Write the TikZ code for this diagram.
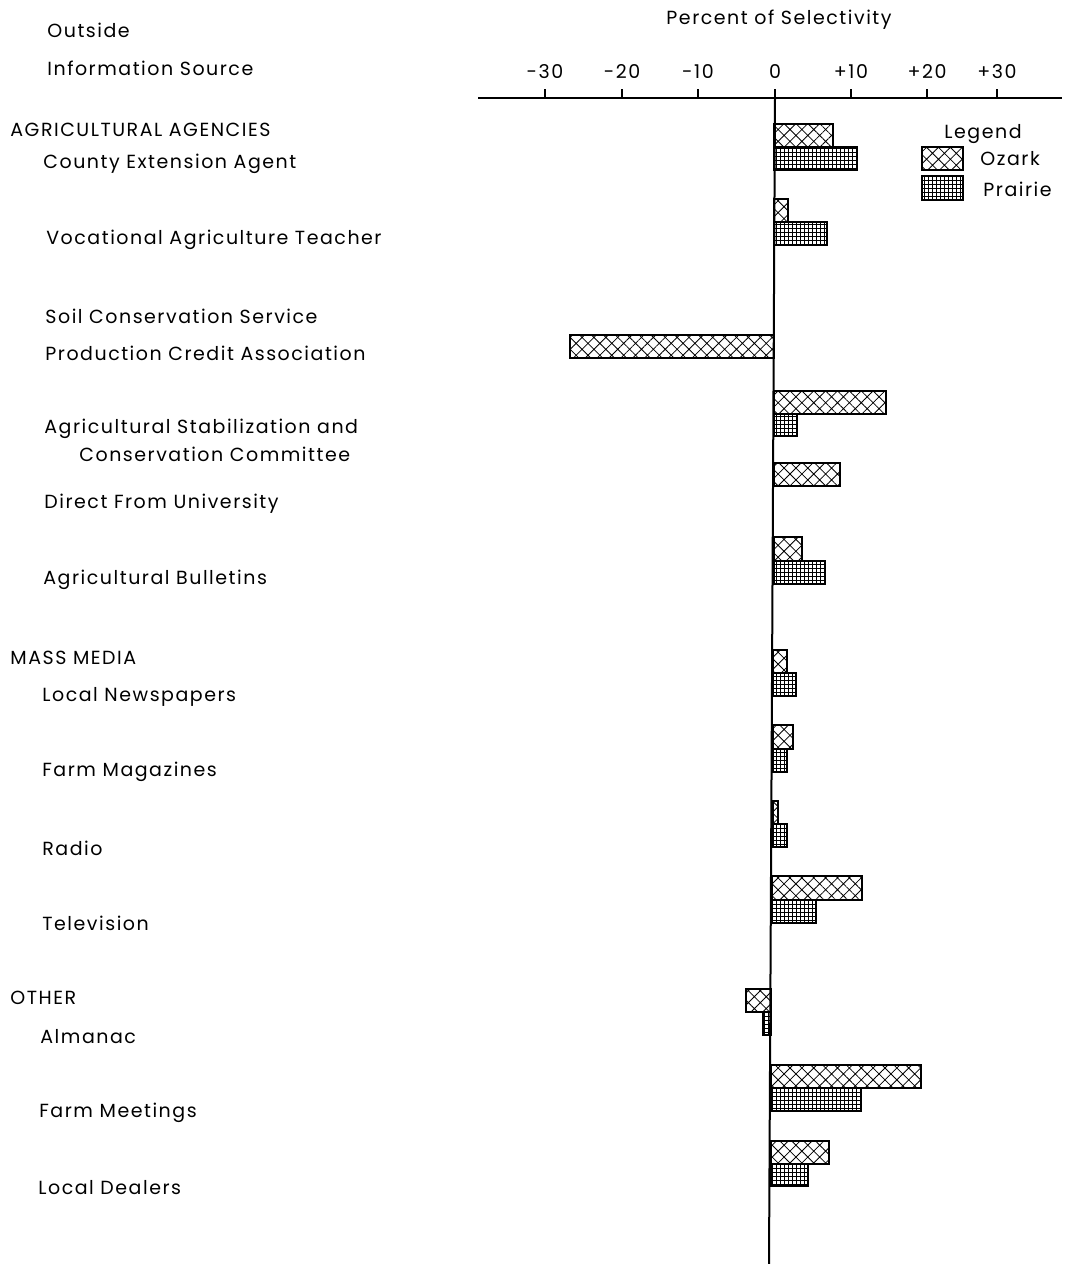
\documentclass[tikz,border=0pt]{standalone}
\usepackage{fontspec}
\setmainfont{Poppins}[LetterSpace=8]
\usetikzlibrary{patterns.meta}

\begin{document}
\begin{tikzpicture}
  [x=0.5pt, y=-0.5pt, font=\fontsize{9.5}{11}\selectfont,
   txt/.style={anchor=west, inner sep=0pt},
   ticklabel/.style={inner sep=0pt},
   ozark/.style={draw, line width=0.7pt, pattern={Hatch[angle=45,distance=4.2pt,line width=0.4pt]}},
   prairie/.style={draw, line width=0.7pt, pattern={Hatch[angle=0,distance=2pt,line width=0.25pt]}}]
  \useasboundingbox (0,0) rectangle (1065,1264);

  % left column
  \node [name=outside, txt] at (47,30) {Outside};
  \node [name=infosrc, txt] at (47,68) {Information Source};
  \node [name=agencies, txt] at (10,130) {AGRICULTURAL AGENCIES};
  \node [name=county, txt] at (43,164) {County Extension Agent};
  \node [name=vocag, txt] at (46,240) {Vocational Agriculture Teacher};
  \node [name=soil, txt] at (45,316) {Soil Conservation Service};
  \node [name=pca, txt] at (45,353) {Production Credit Association};
  \node [name=ascc, txt] at (44,429) {Agricultural Stabilization and};
  \node [name=ascc2, txt] at (79,454) {Conservation Committee};
  \node [name=univ, txt] at (44,504) {Direct From University};
  \node [name=bulletins, txt] at (43,580) {Agricultural Bulletins};
  \node [name=mass, txt] at (10,658) {MASS MEDIA};
  \node [name=papers, txt] at (42,697) {Local Newspapers};
  \node [name=mags, txt] at (42,772) {Farm Magazines};
  \node [name=radio, txt] at (42,848) {Radio};
  \node [name=tv, txt] at (42,923) {Television};
  \node [name=other, txt] at (10,998) {OTHER};
  \node [name=almanac, txt] at (40,1037) {Almanac};
  \node [name=meetings, txt] at (39,1113) {Farm Meetings};
  \node [name=dealers, txt] at (38,1188) {Local Dealers};

  % axes
  \node [name=title] at (779,20) {Percent of Selectivity};
  \draw [line width=1pt] (478,98) -- (1062,98);
  \draw [line width=1pt] (775,98) -- (769,1264);
  \foreach \x/\t in {545/-30, 622/-20, 698/-10, 775/0, 851/+10, 927/+20, 997/+30} {
    \draw [line width=0.7pt] (\x,98) -- (\x,89);
    \node [name=t\x, ticklabel] at (\x,72) {\t};
  }

  % bars
  \draw [ozark] (774,124) rectangle (833,147);
  \draw [prairie] (774,147) rectangle (857,170);
  \draw [ozark] (774,199) rectangle (788,222);
  \draw [prairie] (774,222) rectangle (827,245);
  \draw [ozark] (570,335) rectangle (774,358);
  \draw [ozark] (774,391) rectangle (886,414);
  \draw [prairie] (774,414) rectangle (797,436);
  \draw [ozark] (774,463) rectangle (840,486);
  \draw [ozark] (774,537) rectangle (802,561);
  \draw [prairie] (774,561) rectangle (825,584);
  \draw [ozark] (773,650) rectangle (787,673);
  \draw [prairie] (773,673) rectangle (796,696);
  \draw [ozark] (773,725) rectangle (793,749);
  \draw [prairie] (773,749) rectangle (787,772);
  \draw [ozark] (773,801) rectangle (778,824);
  \draw [prairie] (773,824) rectangle (787,847);
  \draw [ozark] (772,876) rectangle (862,900);
  \draw [prairie] (772,900) rectangle (816,923);
  \draw [ozark] (746,989) rectangle (771,1012);
  \draw [prairie] (763,1012) rectangle (771,1035);
  \draw [ozark] (771,1065) rectangle (921,1088);
  \draw [prairie] (771,1088) rectangle (861,1111);
  \draw [ozark] (771,1141) rectangle (829,1164);
  \draw [prairie] (771,1164) rectangle (808,1186);

  % legend
  \node [name=legend] at (983,134) {Legend};
  \draw [ozark] (922,147) rectangle (963,170);
  \node [name=lgozark, txt] at (980,159) {Ozark};
  \draw [prairie] (922,176) rectangle (963,200);
  \node [name=lgprairie, txt] at (983,189) {Prairie};
\end{tikzpicture}
\end{document}
